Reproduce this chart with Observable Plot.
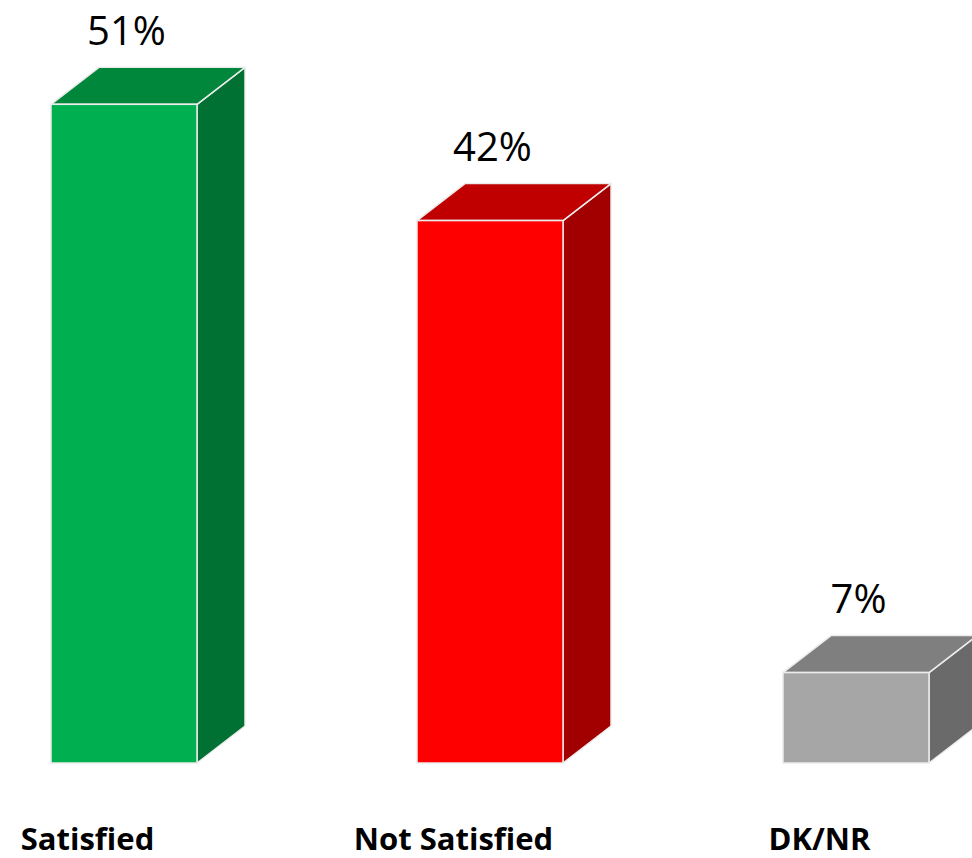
<!DOCTYPE html>
<html>
<head>
<meta charset="utf-8">
<script src="https://cdn.jsdelivr.net/npm/d3@7"></script>
<script src="https://cdn.jsdelivr.net/npm/@observablehq/plot@0.6"></script>
<style>
  html, body { margin: 0; padding: 0; background: #fff; overflow: hidden; }
  #chart svg { display: block; }
</style>
</head>
<body>
<div id="chart"></div>
<script>
const categories = ["Satisfied", "Not Satisfied", "DK/NR"];
const values = [51, 42, 7];
const frontColors = ["#00B050", "#FF0000", "#A6A6A6"];
const topColors = ["#00873B", "#C00000", "#7F7F7F"];
const sideColors = ["#007033", "#A20000", "#6A6A6A"];

const data = categories.map((c, i) => ({cat: c, value: values[i], i}));

const DEPTH_X = 48, DEPTH_Y = 37;
const EDGE = "#ececec";

function depthFaces(index, scales) {
  const x = scales.x, y = scales.y;
  const bw = x.bandwidth();
  const g = d3.create("svg:g");
  for (const d of data) {
    const x0 = x(d.cat), x1 = x0 + bw;
    const yv = y(d.value), y0 = y(0);
    // side face
    g.append("path")
      .attr("d", `M${x1},${y0}L${x1 + DEPTH_X},${y0 - DEPTH_Y}L${x1 + DEPTH_X},${yv - DEPTH_Y}L${x1},${yv}Z`)
      .attr("fill", sideColors[d.i])
      .attr("stroke", EDGE).attr("stroke-width", 1.5).attr("stroke-linejoin", "round");
    // top face
    g.append("path")
      .attr("d", `M${x0},${yv}L${x1},${yv}L${x1 + DEPTH_X},${yv - DEPTH_Y}L${x0 + DEPTH_X},${yv - DEPTH_Y}Z`)
      .attr("fill", topColors[d.i])
      .attr("stroke", EDGE).attr("stroke-width", 1.5).attr("stroke-linejoin", "round");
  }
  return g.node();
}

const chart = Plot.plot({
  width: 972,
  height: 858,
  marginLeft: 51,
  marginRight: 41,
  marginTop: 1,
  marginBottom: 95,
  x: {domain: categories, paddingInner: 0.602, paddingOuter: 0, align: 0, axis: null},
  y: {domain: [0, 59], axis: null},
  color: {domain: categories, range: frontColors},
  marks: [
    depthFaces,
    Plot.barY(data, {x: "cat", y: "value", fill: "cat", stroke: EDGE, strokeWidth: 1.5}),
    Plot.text(data, {
      x: "cat", y: "value", text: d => `${d.value}%`,
      dx: 2, dy: -60, lineAnchor: "bottom",
      fontSize: 40, fontFamily: "Open Sans", fill: "#000"
    }),
    Plot.text(categories, {
      x: d => d, frameAnchor: "bottom",
      dx: -37, dy: 86, lineAnchor: "bottom",
      fontSize: 31, fontWeight: "bold", fontFamily: "Open Sans", fill: "#000"
    })
  ]
});
document.getElementById("chart").appendChild(chart);
</script>
</body>
</html>
